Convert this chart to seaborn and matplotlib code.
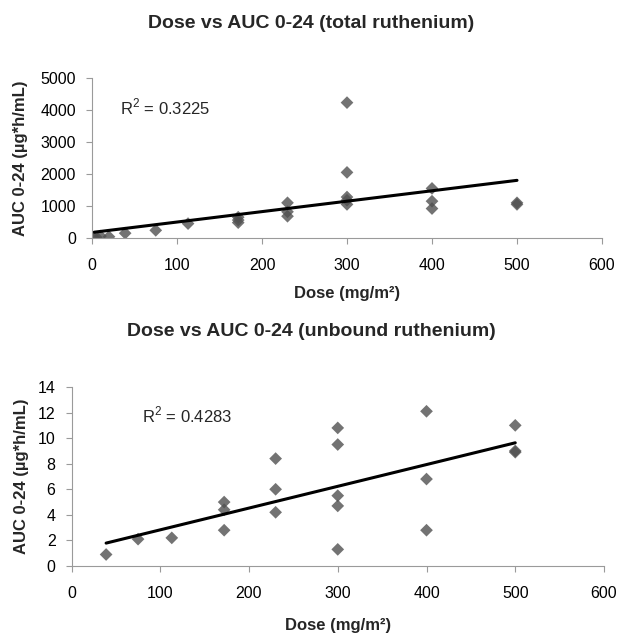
import matplotlib
matplotlib.use("Agg")
import matplotlib.pyplot as plt
import seaborn as sns
import pandas as pd
import numpy as np

# ---- data ----
total_dose = [2.5, 5, 10, 20, 39, 75, 113, 172, 172, 172, 230, 230, 230,
              300, 300, 300, 300, 300, 400, 400, 400, 500, 500]
total_auc = [10, 20, 60, 40, 150, 240, 450, 480, 560, 650, 1100, 820, 680,
             4230, 2050, 1280, 1180, 1050, 1550, 1150, 920, 1100, 1050]

unbound_dose = [39, 75, 113, 172, 172, 172, 230, 230, 230,
                300, 300, 300, 300, 300, 400, 400, 400, 500, 500, 500]
unbound_auc = [0.9, 2.1, 2.2, 5.0, 4.4, 2.8, 8.4, 6.0, 4.2,
               10.8, 9.5, 5.5, 4.7, 1.3, 12.1, 6.8, 2.8, 11.0, 9.0, 8.9]

titles = ["Dose vs AUC 0-24 (total ruthenium)", "Dose vs AUC 0-24 (unbound ruthenium)"]
r2_labels = ["0.3225", "0.4283"]
x_ticks = [0, 100, 200, 300, 400, 500, 600]
y_ticks_total = [0, 1000, 2000, 3000, 4000, 5000]
y_ticks_unbound = [0, 2, 4, 6, 8, 10, 12, 14]

sns.set_style("white")
plt.rcParams['font.family'] = ['Liberation Sans', 'DejaVu Sans']
plt.rcParams['mathtext.fontset'] = 'custom'
plt.rcParams['mathtext.rm'] = 'Liberation Sans'

W, H = 619, 634
fig = plt.figure(figsize=(W / 100, H / 100), dpi=100)
ax1 = fig.add_axes([92 / W, 1 - 238 / H, 510 / W, 160 / H])
ax2 = fig.add_axes([71.5 / W, 1 - 566 / H, 532.5 / W, 179 / H])

df1 = pd.DataFrame({"dose": total_dose, "auc": total_auc})
df2 = pd.DataFrame({"dose": unbound_dose, "auc": unbound_auc})

mcol = "#505050"
gray = "#9a9a9a"
configs = [
    (ax1, df1, titles[0], r2_labels[0], y_ticks_total, (33, 4090), 24, -0.140, -0.344),
    (ax2, df2, titles[1], r2_labels[1], y_ticks_unbound, (79, 11.8), 332, -0.093, -0.330),
]
for ax, df, title, r2, yt, r2pos, title_y, ylab_x, xlab_y in configs:
    sns.regplot(data=df, x="dose", y="auc", ax=ax, ci=None, truncate=True,
                marker="D", scatter_kws=dict(s=42, color=mcol, edgecolors="none"),
                line_kws=dict(color="black", lw=2.2))
    ax.set_xlim(0, 600)
    ax.set_ylim(yt[0], yt[-1])
    ax.set_xticks(x_ticks)
    ax.set_yticks(yt)
    ax.tick_params(axis="both", labelsize=11.5, labelcolor="black", length=4.5,
                   direction="out", width=0.8, color=gray)
    ax.tick_params(axis="x", pad=10)
    ax.tick_params(axis="y", pad=7)
    ax.xaxis.set_ticks_position("bottom")
    ax.yaxis.set_ticks_position("left")
    for s in ["top", "right"]:
        ax.spines[s].set_visible(False)
    for s in ["left", "bottom"]:
        ax.spines[s].set_color(gray)
        ax.spines[s].set_linewidth(0.8)
    ax.set_xlabel("Dose (mg/m²)", fontsize=12, fontweight="bold")
    ax.xaxis.label.set_va("center")
    ax.xaxis.set_label_coords(0.5, xlab_y)
    ax.set_ylabel("AUC 0-24 (µg*h/mL)", fontsize=12, fontweight="bold")
    ax.yaxis.label.set_va("center")
    ax.yaxis.set_label_coords(ylab_x, 0.5)
    fig.text(311 / W, 1 - title_y / H, title, fontsize=14, fontweight="bold",
             ha="center", va="center")
    ax.text(r2pos[0], r2pos[1], "R$^2$ = " + r2, fontsize=12, va="center")

fig.savefig("out.png", dpi=100)
